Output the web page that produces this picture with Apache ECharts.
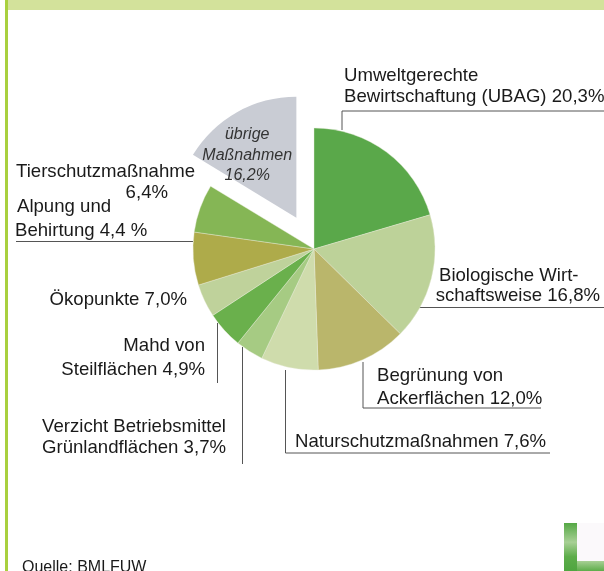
<!DOCTYPE html>
<html><head><meta charset="utf-8">
<style>html,body{margin:0;padding:0;background:#fff}#c{width:604px;height:571px}</style>
<script src="https://cdn.jsdelivr.net/npm/echarts@6/dist/echarts.min.js"></script>
</head><body><div id="c"></div>
<script>
const categories = ['Umweltgerechte Bewirtschaftung (UBAG)','Biologische Wirtschaftsweise','Begrünung von Ackerflächen','Naturschutzmaßnahmen','Verzicht Betriebsmittel Grünlandflächen','Mahd von Steilflächen','Ökopunkte','Alpung und Behirtung','Tierschutzmaßnahme','übrige Maßnahmen'];
const values = [20.3,16.8,12.0,7.6,3.7,4.9,4.4,7.0,6.4,16.2];
const colors = ['#5AA84A','#BDD299','#BAB66B','#CFDCAC','#A6CB83','#6AB04C','#BFD29B','#AEAB4A','#85B655','#C9CCD4'];
const callouts = [
 ['Umweltgerechte',344,76,'left'],['Bewirtschaftung (UBAG) 20,3%',344,97,'left'],
 ['Biologische Wirt-',439,276,'left'],['schaftsweise 16,8%',600,296,'right'],
 ['Begrünung von',377,376,'left'],['Ackerflächen 12,0%',377,399,'left'],
 ['Naturschutzmaßnahmen 7,6%',295,442,'left'],
 ['Verzicht Betriebsmittel',226,427,'right'],['Grünlandflächen 3,7%',226,448,'right'],
 ['Mahd von',205,346,'right'],['Steilflächen 4,9%',205,370,'right'],
 ['Ökopunkte 7,0%',187,300,'right'],
 ['Alpung und',17,207,'left'],['Behirtung 4,4 %',15,231,'left'],
 ['Tierschutzmaßnahme',16,172,'left'],['6,4%',168,193,'right']
];
const source = 'Quelle: BMLFUW';
const leaders = [
 [[342,130],[342,111],[604,111]],[[419,307.5],[604,307.5]],
 [[363,362],[363,408],[541,408]],[[285.5,370],[285.5,453],[550,453]],
 [[242.5,347],[242.5,464]],[[217.5,323],[217.5,383]],[[16,241.5],[193,241.5]]
];
const chart = echarts.init(document.getElementById('c'),null,{renderer:'canvas'});
const graphic = [
 {type:'rect',shape:{x:5,y:0,width:599,height:10},style:{fill:'#D3E29B'},silent:true},
 {type:'rect',shape:{x:5,y:0,width:3,height:571},style:{fill:'#A9D03F'},silent:true},
 {type:'rect',shape:{x:564,y:523,width:13,height:48},style:{fill:new echarts.graphic.LinearGradient(0,0,0,1,[{offset:0,color:'#55A845'},{offset:.4,color:'#A8D095'},{offset:.7,color:'#5DAD4A'},{offset:1,color:'#4FA540'}])},silent:true},
 {type:'rect',shape:{x:577,y:523,width:27,height:38},style:{fill:'#FBF9FB'},silent:true},
 {type:'rect',shape:{x:577,y:561,width:27,height:10},style:{fill:new echarts.graphic.LinearGradient(0,0,0,1,[{offset:0,color:'#A8D095'},{offset:1,color:'#5DAD4A'}])},silent:true}
];
leaders.forEach(p=>graphic.push({type:'polyline',shape:{points:p},style:{stroke:'#555',lineWidth:1,fill:null},silent:true}));
callouts.forEach(t=>graphic.push({type:'text',x:t[1],y:t[2],silent:true,style:{text:t[0],align:t[3],verticalAlign:'middle',font:'18.6px "Liberation Sans"',fill:'#1a1a1a'}}));
graphic.push({type:'text',x:22,y:568,silent:true,style:{text:source,align:'left',verticalAlign:'middle',font:'16px "Liberation Sans"',fill:'#1a1a1a'}});
chart.setOption({
 animation:false,
 graphic,
 series:[{
  type:'pie',center:[314,249],radius:[0,121],startAngle:90,clockwise:true,
  selectedMode:'single',selectedOffset:36,silent:true,
  itemStyle:{borderColor:'#E8EBD8',borderWidth:0.4},
  label:{show:false},labelLine:{show:false},
  labelLayout:{dx:-18,dy:-7},
  data:categories.map((n,i)=>{
   const d={name:n,value:values[i],itemStyle:{color:colors[i]}};
   if(i===9){d.selected=true;d.itemStyle.borderWidth=0;
    d.label={show:true,position:'inside',formatter:'übrige\nMaßnahmen\n16,2%',fontStyle:'italic',fontSize:16,fontFamily:'Liberation Sans',color:'#333',lineHeight:20.5};}
   return d;})
 }]
});
</script></body></html>
